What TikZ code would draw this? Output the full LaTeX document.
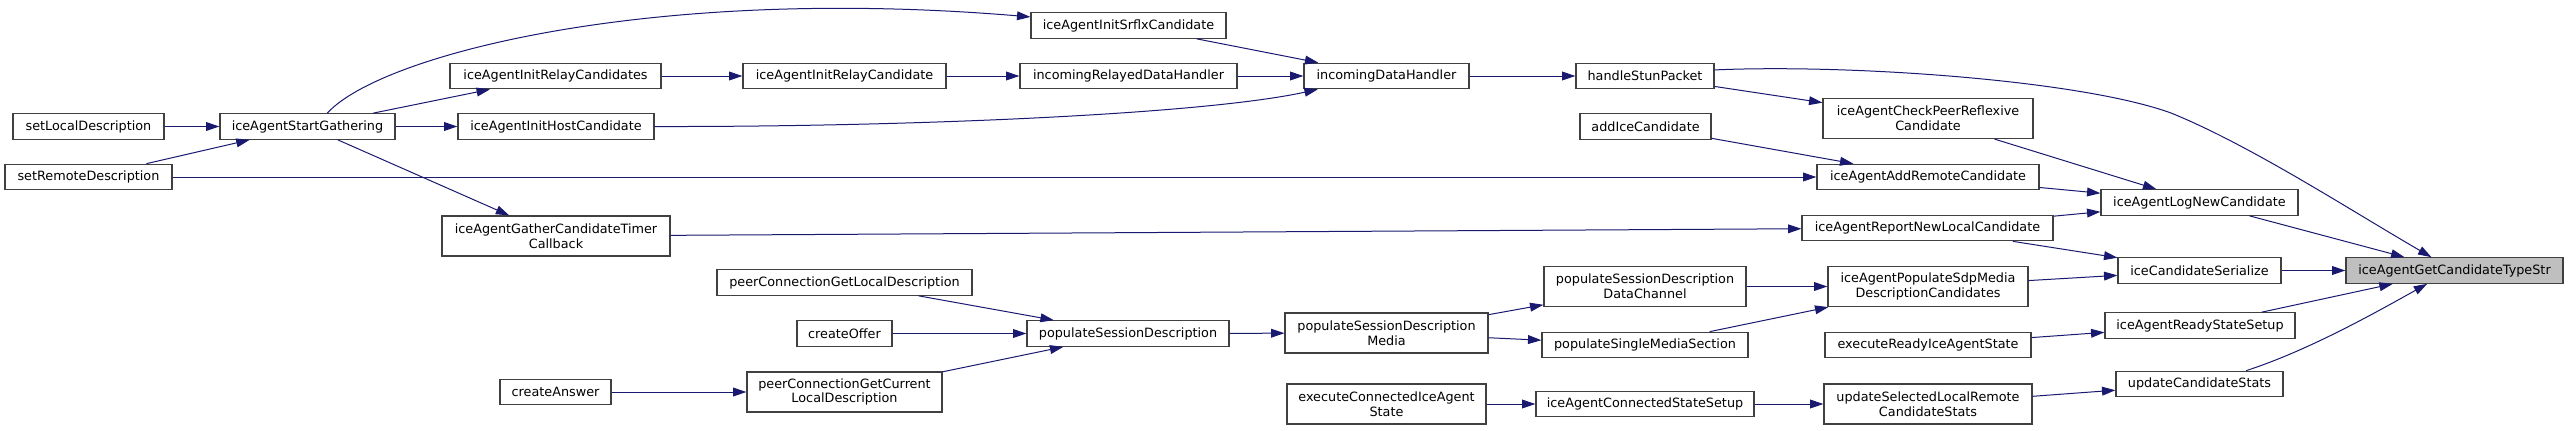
\documentclass[tikz,border=0pt]{standalone}
\usepackage{fontspec}
\setmainfont{DejaVu Sans}
\usepackage{tikz}
\usetikzlibrary{arrows.meta}
\definecolor{edgeblue}{HTML}{191970}
\definecolor{boxline}{HTML}{404040}
\definecolor{boxfill}{HTML}{BFBFBF}
\tikzset{
	fn/.style={draw=boxline, line width=0.6pt, fill=white, inner sep=0pt, minimum height=12.75pt, align=center, font=\fontsize{6.4pt}{7.4pt}\selectfont},
	fntwo/.style={fn, minimum height=20pt},
	call/.style={draw=edgeblue, line width=0.5pt, -{Triangle[length=6.7pt,width=4.4pt]}},
}

\begin{document}
\begin{tikzpicture}[x=0.5pt,y=-0.5pt]
	\useasboundingbox (0,0) rectangle (2568,430);
	\node[fn, minimum width=75.5pt] (sld) at (88.5,126.5) {setLocalDescription};
	\node[fn, minimum width=83.5pt] (srd) at (88.5,177) {setRemoteDescription};
	\node[fn, minimum width=87.5pt] (sg) at (307.5,126.5) {iceAgentStartGathering};
	\node[fn, minimum width=105.5pt] (irc) at (555.5,76) {iceAgentInitRelayCandidates};
	\node[fn, minimum width=98pt] (ihc) at (556,126.5) {iceAgentInitHostCandidate};
	\node[fntwo, minimum width=114pt] (gtc) at (556,236) {iceAgentGatherCandidateTimer\\Callback};
	\node[fn, minimum width=55.5pt] (ca) at (555.5,392) {createAnswer};
	\node[fn, minimum width=97.5pt] (isc) at (1128.5,25.5) {iceAgentInitSrflxCandidate};
	\node[fn, minimum width=101.5pt] (ir1) at (844.5,76) {iceAgentInitRelayCandidate};
	\node[fn, minimum width=108.5pt] (ird) at (1128.5,76) {incomingRelayedDataHandler};
	\node[fn, minimum width=127.5pt] (pgl) at (844.5,282.5) {peerConnectionGetLocalDescription};
	\node[fn, minimum width=47.5pt] (co) at (844.5,333.5) {createOffer};
	\node[fn, minimum width=101pt] (psd) at (1128,333.5) {populateSessionDescription};
	\node[fntwo, minimum width=97.5pt] (pgc) at (844.5,392) {peerConnectionGetCurrent\\LocalDescription};
	\node[fn, minimum width=82.5pt] (idh) at (1386.5,76) {incomingDataHandler};
	\node[fn, minimum width=69pt] (hsp) at (1645,76) {handleStunPacket};
	\node[fntwo, minimum width=105pt] (cpr) at (1928,118.5) {iceAgentCheckPeerReflexive\\Candidate};
	\node[fn, minimum width=65.5pt] (aic) at (1645.5,126.5) {addIceCandidate};
	\node[fn, minimum width=111pt] (arc) at (1928,177) {iceAgentAddRemoteCandidate};
	\node[fn, minimum width=125.5pt] (rnl) at (1927.5,228) {iceAgentReportNewLocalCandidate};
	\node[fntwo, minimum width=101pt] (pdc) at (1645,286.5) {populateSessionDescription\\DataChannel};
	\node[fntwo, minimum width=101.5pt] (psm) at (1386.5,333) {populateSessionDescription\\Media};
	\node[fn, minimum width=103pt] (psms) at (1645,345) {populateSingleMediaSection};
	\node[fntwo, minimum width=100pt] (psdc) at (1928,286.5) {iceAgentPopulateSdpMedia\\DescriptionCandidates};
	\node[fn, minimum width=103pt] (eri) at (1928,345) {executeReadyIceAgentState};
	\node[fntwo, minimum width=99.5pt] (eci) at (1386.5,404) {executeConnectedIceAgent\\State};
	\node[fn, minimum width=109pt] (css) at (1645,404) {iceAgentConnectedStateSetup};
	\node[fntwo, minimum width=104pt] (usl) at (1928,404) {updateSelectedLocalRemote\\CandidateStats};
	\node[fn, minimum width=98.5pt] (lnc) at (2199.5,202.5) {iceAgentLogNewCandidate};
	\node[fn, minimum width=81.5pt] (ics) at (2199.5,270.5) {iceCandidateSerialize};
	\node[fn, minimum width=108.5pt, fill=boxfill] (gts) at (2454.5,270.5) {iceAgentGetCandidateTypeStr};
	\node[fn, minimum width=95pt] (rss) at (2200,325.5) {iceAgentReadyStateSetup};
	\node[fn, minimum width=83.5pt] (ucs) at (2199.5,384) {updateCandidateStats};

	\draw[call] (sld) -- (sg);
	\draw[call] (srd) -- (sg);
	\draw[call] (srd) -- (arc);
	\draw[call] (sg) -- (irc);
	\draw[call] (sg) -- (ihc);
	\draw[call] (sg) -- (gtc);
	\draw[call] (sg.34) .. controls (380,55) and (650,-15) .. (isc.175);
	\draw[call] (irc) -- (ir1);
	\draw[call] (ir1) -- (ird);
	\draw[call] (ird) -- (idh);
	\draw[call] (isc) -- (idh);
	\draw[call] (ihc.east) .. controls (900,127) and (1200,115) .. (idh.191);
	\draw[call] (idh) -- (hsp);
	\draw[call] (hsp) -- (cpr);
	\draw[call] (hsp.5) .. controls (1850,64) and (2080,80) .. (2171,113) .. controls (2250,145) and (2350,210) .. (gts.150);
	\draw[call] (cpr) -- (lnc);
	\draw[call] (aic) -- (arc);
	\draw[call] (arc) -- (lnc);
	\draw[call] (gtc) -- (rnl);
	\draw[call] (rnl) -- (lnc);
	\draw[call] (rnl) -- (ics);
	\draw[call] (lnc) -- (gts);
	\draw[call] (ics) -- (gts);
	\draw[call] (psdc) -- (ics);
	\draw[call] (pgl) -- (psd);
	\draw[call] (co) -- (psd);
	\draw[call] (ca) -- (pgc);
	\draw[call] (pgc) -- (psd);
	\draw[call] (psd) -- (psm);
	\draw[call] (psm) -- (pdc);
	\draw[call] (psm) -- (psms);
	\draw[call] (pdc) -- (psdc);
	\draw[call] (psms) -- (psdc);
	\draw[call] (eri) -- (rss);
	\draw[call] (rss) -- (gts);
	\draw[call] (eci) -- (css);
	\draw[call] (css) -- (usl);
	\draw[call] (usl) -- (ucs);
	\draw[call] (ucs.16) .. controls (2310,350) and (2380,310) .. (gts.206);
\end{tikzpicture}
\end{document}
